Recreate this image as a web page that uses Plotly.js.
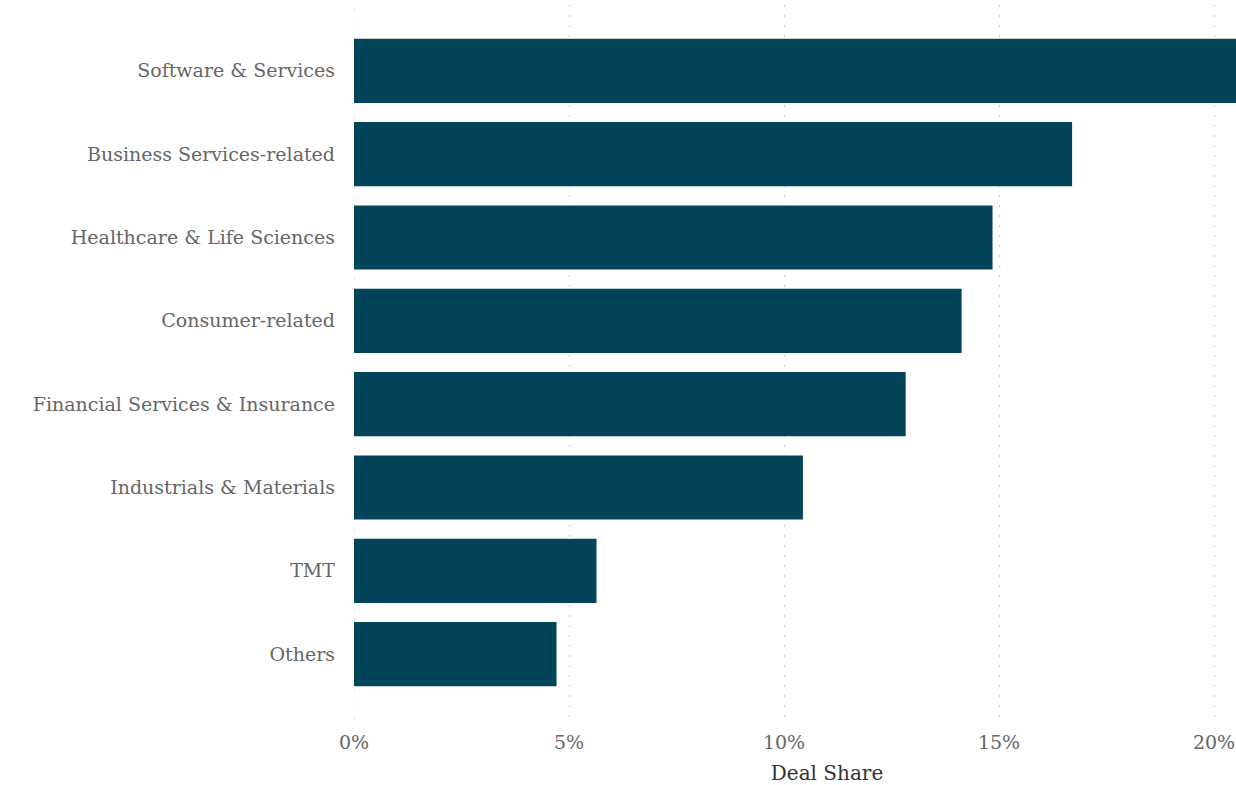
<!DOCTYPE html>
<html>
<head>
<meta charset="utf-8">
<script src="https://cdn.plot.ly/plotly-3.0.1.min.js"></script>
<style>html,body{margin:0;padding:0;background:#fff;overflow:hidden;width:1236px;height:785px;}#chart{width:1300px;height:785px;}</style>
</head>
<body>
<div id="chart"></div>
<script>
var categories = ["Software & Services","Business Services-related","Healthcare & Life Sciences","Consumer-related","Financial Services & Insurance","Industrials & Materials","TMT","Others"];
var dealShare = [20.7, 16.7, 14.85, 14.13, 12.83, 10.44, 5.64, 4.71];
var tickVals = [0, 5, 10, 15, 20];
var tickText = ["0%","5%","10%","15%","20%"];

var font = "Georgia, 'DejaVu Serif', serif";
var gridDash = '2px,8px';
Plotly.newPlot('chart', [{
  type: 'bar',
  orientation: 'h',
  y: categories,
  x: dealShare,
  marker: {color: '#02455a'},
  hoverinfo: 'x+y'
}], {
  width: 1300, height: 785,
  margin: {l: 354, r: 0, t: 5, b: 65, pad: 0},
  paper_bgcolor: '#fff', plot_bgcolor: '#fff',
  bargap: 0.23,
  showlegend: false,
  font: {family: font, color: '#666', size: 19},
  shapes: [{
    type: 'line', layer: 'below', xref: 'x', yref: 'paper',
    x0: tickVals[0], x1: tickVals[0], y0: 0, y1: 1,
    line: {color: '#c8c8c8', width: 1, dash: gridDash}
  }],
  xaxis: {
    range: [0, 22],
    tickvals: tickVals, ticktext: tickText,
    showgrid: true, gridcolor: '#c8c8c8', griddash: gridDash, gridwidth: 1,
    zeroline: false, showline: false, ticks: '',
    ticklabelstandoff: 9,
    tickfont: {family: font, size: 19, color: '#666'},
    title: {text: 'Deal Share', font: {family: font, size: 20, color: '#333'}, standoff: 13}
  },
  yaxis: {
    autorange: false, range: [7.79, -0.79],
    type: 'category',
    showgrid: false, zeroline: false, showline: false, ticks: '',
    ticklabelstandoff: 18,
    tickfont: {family: font, size: 19, color: '#666'}
  }
}, {displayModeBar: false});
</script>
</body>
</html>
